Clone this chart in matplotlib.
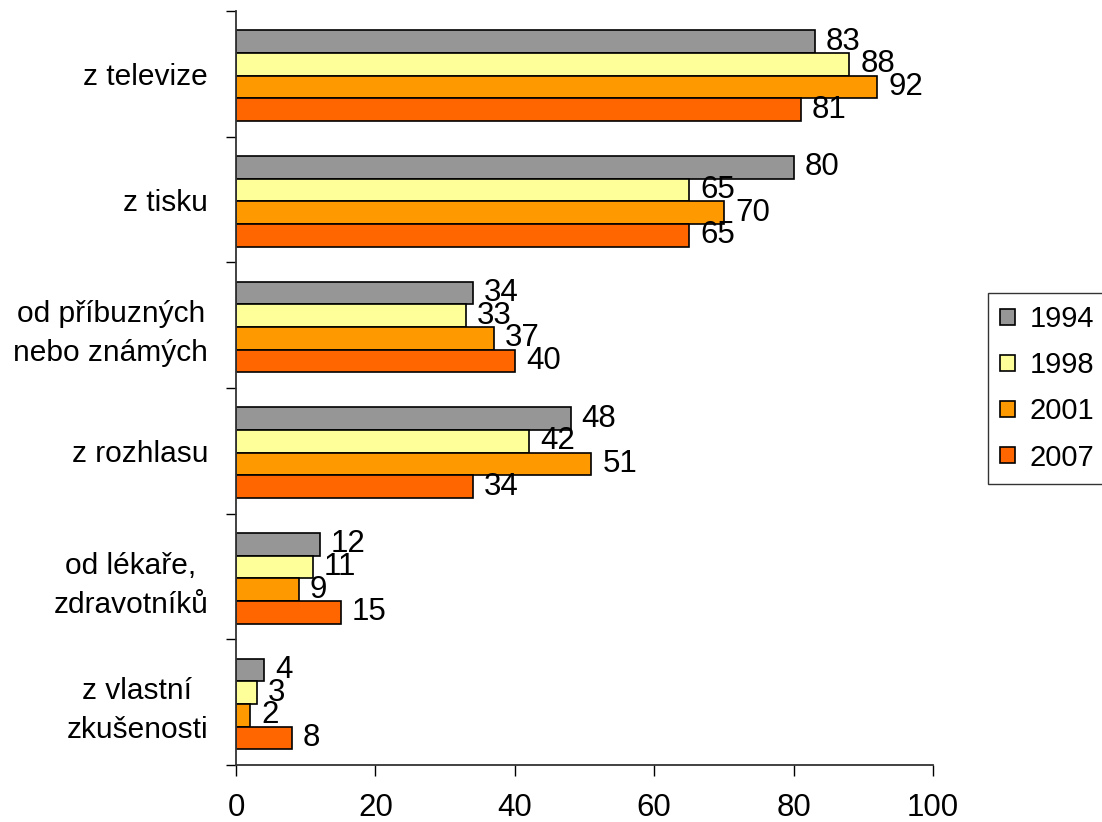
import matplotlib
matplotlib.use("Agg")
import matplotlib.pyplot as plt
import numpy as np

categories = ["z televize", "z tisku", "od příbuzných\nnebo známých", "z rozhlasu",
              "od lékaře,\nzdravotníků", "z vlastní\nzkušenosti"]
years = ["1994", "1998", "2001", "2007"]
v1994 = [83, 80, 34, 48, 12, 4]
v1998 = [88, 65, 33, 42, 11, 3]
v2001 = [92, 70, 37, 51, 9, 2]
v2007 = [81, 65, 40, 34, 15, 8]
series = [v1994, v1998, v2001, v2007]
colors = ["#969696", "#FFFF99", "#FF9900", "#FF6600"]

plt.rcParams['font.family'] = ['Liberation Sans', 'DejaVu Sans']

fig = plt.figure(figsize=(11.02, 8.22), dpi=100)
ax = fig.add_axes([236/1102, 1-765/822, (933-236)/1102, (765-11)/822])

n = len(categories)
y = np.arange(n)
h = 0.18
offsets = [-1.5*h, -0.5*h, 0.5*h, 1.5*h]
for vals, col, yr, off in zip(series, colors, years, offsets):
    ax.barh(y + off + 0.015, vals, height=h, color=col, edgecolor='black', linewidth=1.2, label=yr)
    for yy, v in zip(y + off + 0.015, vals):
        ax.annotate(str(v), (v, yy), xytext=(8, 0), textcoords='offset points',
                    ha='left', va='center', fontsize=22.5)

ax.set_xlim(0, 100)
ax.set_ylim(n - 0.5, -0.5)
ax.set_xticks(np.arange(0, 101, 20))
ax.tick_params(axis='x', labelsize=22.5, length=8, width=1, direction='out', pad=12)
ax.set_yticks(y)
ax.set_yticklabels(categories, fontsize=21.5)
for lab in ax.get_yticklabels():
    lab.set_multialignment('center')
    lab.set_linespacing(1.5)
ax.tick_params(axis='y', length=0, pad=20)
ax.set_yticks(np.arange(-0.5, n, 1), minor=True)
ax.tick_params(axis='y', which='minor', length=7, width=1, direction='out')
for s in ['top', 'right']:
    ax.spines[s].set_visible(False)
for s in ['left', 'bottom']:
    ax.spines[s].set_color('#333333')
    ax.spines[s].set_linewidth(1.3)

leg = fig.legend(loc='upper left', bbox_to_anchor=(988/1102, 1-293/822), fontsize=21,
                 frameon=True, fancybox=False, edgecolor='black', handlelength=0.5,
                 handleheight=0.5, handletextpad=0.5, labelspacing=0.62, borderpad=0.42,
                 borderaxespad=0)
leg.get_frame().set_linewidth(1.0)

fig.savefig("out.png", dpi=100)
